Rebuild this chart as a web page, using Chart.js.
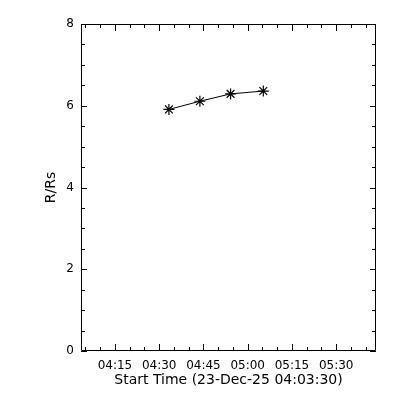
<!DOCTYPE html>
<html>
<head>
<meta charset="utf-8">
<script src="https://cdn.jsdelivr.net/npm/chart.js@4/dist/chart.umd.min.js"></script>
<style>
html,body{margin:0;padding:0;background:#fff;}
canvas{display:block;}
</style>
</head>
<body>
<canvas id="c" width="400" height="400"></canvas>
<script>
// ---- data ----
const startTime = '04:03:30';
const startLabel = 'Start Time (23-Dec-25 04:03:30)';
const times = ['04:33:18', '04:43:48', '04:54:12', '05:05:18'];
const rValues = [5.91, 6.11, 6.29, 6.36];
const xTickLabels = ['04:15', '04:30', '04:45', '05:00', '05:15', '05:30'];
const yTickValues = [0, 2, 4, 6, 8];
const xRangeMin = [0, 100];     // minutes after start
const yRange = [0, 8];

function clockMin(s) {
  const p = s.split(':').map(Number);
  return p[0] * 60 + p[1] + (p[2] || 0) / 60;
}
function relMin(s) { return clockMin(s) - clockMin(startTime); }

const points = times.map((t, i) => ({ x: relMin(t), y: rValues[i] }));
const xTickVals = xTickLabels.map(relMin);

const TICKFONT = { family: 'DejaVu Sans', size: 12 };
const TITLEFONT = { family: 'DejaVu Sans', size: 14 };

const frameTicks = {
  id: 'frameTicks',
  afterDraw(chart) {
    const ctx = chart.ctx, a = chart.chartArea;
    const xs = chart.scales.x, ys = chart.scales.y;
    ctx.save();
    ctx.strokeStyle = '#000';
    ctx.lineWidth = 1;
    ctx.beginPath();
    ctx.rect(Math.round(a.left) + 0.5, Math.round(a.top) + 0.5,
             Math.round(a.right - a.left) - 1, Math.round(a.bottom - a.top) - 1);
    ctx.stroke();
    ctx.beginPath();
    const s0 = clockMin(startTime);
    for (let m = Math.ceil(s0 / 5) * 5; m - s0 <= xs.max; m += 5) {
      const v = m - s0;
      const px = Math.round(xs.getPixelForValue(v)) + 0.5;
      const major = xTickVals.some(t => Math.abs(t - v) < 1e-6);
      const len = major ? 7 : 4;
      ctx.moveTo(px, a.bottom); ctx.lineTo(px, a.bottom - len);
      ctx.moveTo(px, a.top); ctx.lineTo(px, a.top + len);
    }
    for (let v = ys.min; v <= ys.max + 1e-9; v += 0.5) {
      const py = Math.round(ys.getPixelForValue(v)) + 0.5;
      const major = yTickValues.some(t => Math.abs(t - v) < 1e-6);
      const len = major ? 6 : 4;
      ctx.moveTo(a.left, py); ctx.lineTo(a.left + len, py);
      ctx.moveTo(a.right, py); ctx.lineTo(a.right - len, py);
    }
    ctx.stroke();
    ctx.restore();
  }
};

new Chart(document.getElementById('c'), {
  type: 'line',
  data: {
    datasets: [{
      data: points,
      borderColor: '#000',
      borderWidth: 1,
      pointStyle: 'star',
      pointRadius: 5.5,
      pointBorderColor: '#000',
      pointBorderWidth: 1.2,
      pointBackgroundColor: '#000',
      tension: 0,
      fill: false
    }]
  },
  options: {
    responsive: false,
    animation: false,
    events: [],
    layout: { padding: { left: 0, right: 24, top: 24, bottom: 0 } },
    plugins: { legend: { display: false }, tooltip: { enabled: false } },
    scales: {
      x: {
        type: 'linear',
        min: xRangeMin[0], max: xRangeMin[1],
        afterBuildTicks(scale) { scale.ticks = xTickVals.map(v => ({ value: v })); },
        afterFit(scale) { scale.height = 49; },
        grid: { display: false, drawTicks: false },
        border: { display: false },
        ticks: {
          autoSkip: false, maxRotation: 0, padding: 8,
          color: '#000', font: TICKFONT,
          callback: (v, i) => xTickLabels[i]
        },
        title: {
          display: true, text: startLabel, color: '#000', font: TITLEFONT,
          padding: { top: 0, bottom: 11 }
        }
      },
      y: {
        type: 'linear',
        min: yRange[0], max: yRange[1],
        afterBuildTicks(scale) { scale.ticks = yTickValues.map(v => ({ value: v })); },
        afterFit(scale) { scale.width = 81; },
        grid: { display: false, drawTicks: false },
        border: { display: false },
        ticks: { padding: 7, color: '#000', font: TICKFONT },
        title: {
          display: true, text: 'R/Rs', color: '#000', font: TITLEFONT,
          padding: { top: 43, bottom: 0 }
        }
      }
    }
  },
  plugins: [frameTicks]
});
</script>
</body>
</html>
